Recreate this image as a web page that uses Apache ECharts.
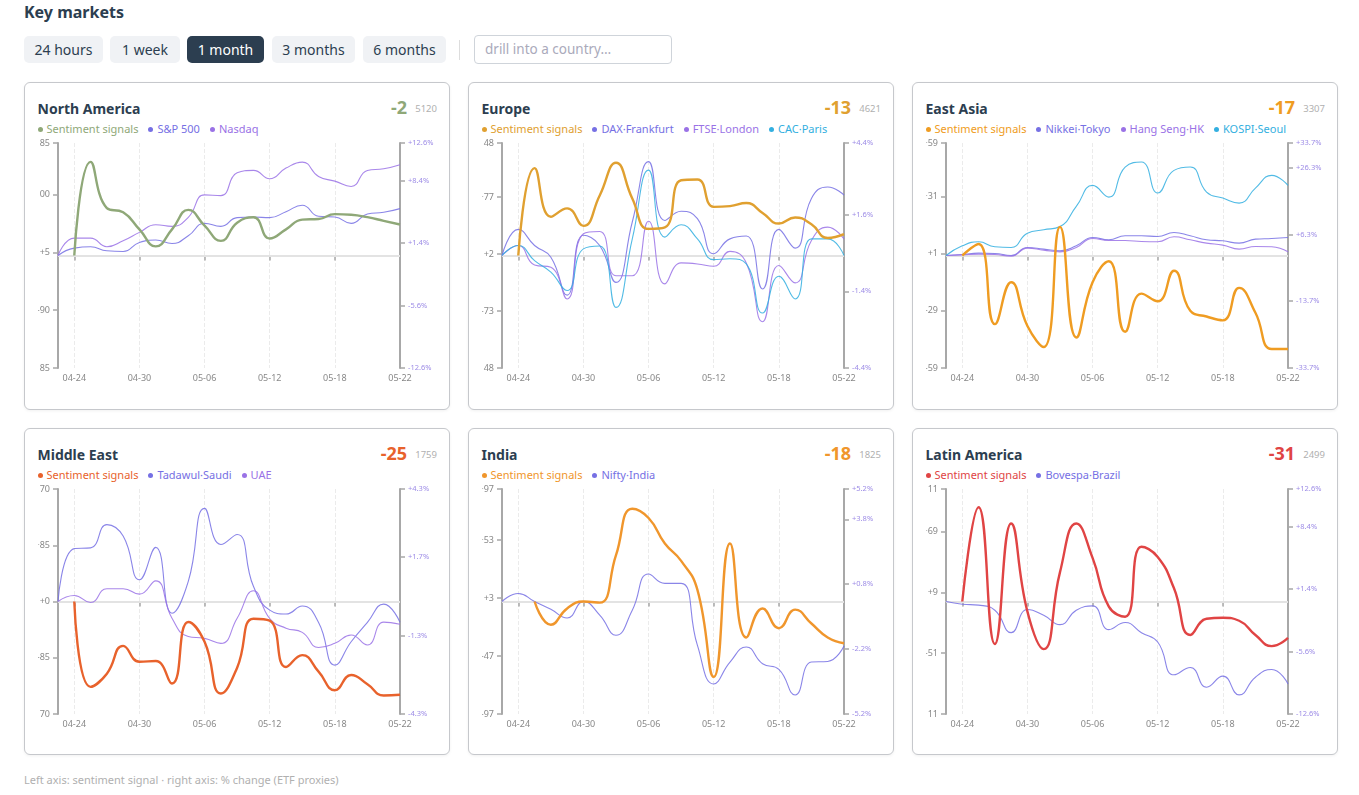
<!DOCTYPE html>
<html>
<head>
<meta charset="utf-8">
<script src="https://cdn.jsdelivr.net/npm/echarts@6/dist/echarts.min.js"></script>
<style>
  body { margin: 0; background: #fff; font-family: 'Noto Sans', 'Open Sans', sans-serif; color: #2c3e50; }
  #page { position: relative; width: 1359px; height: 795px; }
  .h1 { position: absolute; left: 24px; top: 1px; font-size: 16px; font-weight: 700; color: #2c3e50; }
  .btn { position: absolute; top: 36px; height: 27px; line-height: 27px; border-radius: 5px; background: #f0f2f5;
         color: #2c3e50; font-size: 14px; text-align: center; }
  .btn.on { background: #2c3e50; color: #fff; }
  .sep { position: absolute; left: 459px; top: 40px; width: 1px; height: 20px; background: #ddd; }
  .search { position: absolute; left: 474px; top: 35px; width: 186px; height: 27px; border: 1px solid #cfd4da; border-radius: 4px;
            font-size: 13.5px; color: #aab; line-height: 27px; padding-left: 10px; box-sizing: content-box; }
  .panel { position: absolute; width: 424px; border: 1.5px solid #c6c8cc; border-radius: 6px; background: #fff;
           box-shadow: 0 1px 3px rgba(0,0,0,0.06); }
  .ptitle { position: absolute; left: 12.5px; top: 16px; font-size: 14px; font-weight: 700; color: #2c3e50; }
  .pnum { position: absolute; right: 42px; top: 12px; font-size: 18px; font-weight: 700; }
  .pcount { position: absolute; right: 12px; top: 19px; font-size: 9.5px; color: #b0b0b0; }
  .legend { position: absolute; left: 12.5px; top: 38px; font-size: 11px; white-space: nowrap; }
  .legend span { margin-right: 10px; }
  .legend i { display: inline-block; width: 5px; height: 5px; border-radius: 50%; margin-right: 4px; vertical-align: 1px; }
  .chart { position: absolute; left: 12.5px; top: 54px; width: 400px; height: 252px; }
  .foot { position: absolute; left: 24px; top: 772px; font-size: 11px; color: #b0b0b0; }
</style>
</head>
<body>
<div id="page">
  <div class="h1">Key markets</div>
  <div class="btn" style="left:24px;width:79px">24 hours</div>
  <div class="btn" style="left:110px;width:70px">1 week</div>
  <div class="btn on" style="left:187px;width:77px">1 month</div>
  <div class="btn" style="left:272px;width:83px">3 months</div>
  <div class="btn" style="left:363px;width:83px">6 months</div>
  <div class="sep"></div>
  <div class="search">drill into a country…</div>
  <div class="foot">Left axis: sentiment signal · right axis: % change (ETF proxies)</div>
</div>
<script>
// x categories (only every 4th from index 1 is labelled)
const dates = ['04-23', '04-24', '04-25', '04-27', '04-28', '04-30', '05-01', '05-03', '05-04', '05-06', '05-07',
  '05-09', '05-10', '05-12', '05-13', '05-15', '05-16', '05-18', '05-19', '05-20', '05-21', '05-22'];

// North America
const naSentiment = ['-', 0, 154, 78, 71, 43, 15, 43, 75, 49, 24, 54, 63, 28, 43, 59, 60, 68, 67, 63, 57, 51];
const naSp500 = [0, 0.83, 0.98, 0.53, 0.45, 1.46, 1.73, 1.35, 2.21, 3.6, 3.26, 4.24, 4.31, 4.24, 4.91, 5.63, 4.39, 4.31, 3.6, 4.65, 4.84, 5.25];
const naNasdaq = [0, 1.95, 1.95, 0.98, 1.65, 2.59, 3.45, 3.26, 4.28, 6.79, 6.71, 9.26, 9.53, 8.59, 9.79, 10.46, 8.85, 8.33, 7.73, 9.53, 9.71, 10.16];

// Europe
const euSentiment = ['-', 0, 115, 51, 62, 39, 79, 122, 75, 35, 37, 99, 100, 64, 65, 69, 56, 42, 50, 41, 23, 28];
const euDax = [0, 1.02, 0.39, -0.07, -1.55, 0.79, 0.39, -1.05, 1.31, 3.67, 1.37, 1.73, 1.44, 0.07, 0.65, 0.76, -1.31, 1.02, 0.29, 2.23, 2.68, 2.36];
const euFtse = [0, 0.39, -0.37, -0.46, -1.7, 0.85, 0.94, -0.79, -0.79, 1.34, -1.11, -0.29, -0.33, -0.42, 0.16, -0.29, -2.59, -0.39, -1.07, 0.59, 1.11, 0.65];
const euCac = [0, 0.39, -0.2, -0.65, -1.37, 0.26, 0.37, -2.03, 0.65, 3.34, 0.72, 1.2, 0.65, -0.16, -0.13, -0.33, -2.25, -0.81, -1.7, 0.65, 0.65, 0];

// East Asia
const eaSentiment = ['-', 0, 6, -36, -14, -37, -48, 15, -43, -14, -3, -40, -20, -24, -8, -29, -32, -34, -17, -30, -49, -49];
const eaNikkei = [0, 0.3, 0.7, 0.6, 0, 2.4, 1.9, 1.4, 2.9, 5.4, 4.7, 5.9, 5.9, 5.7, 6.9, 5.9, 4.7, 4.4, 3.7, 4.9, 5.1, 5.4];
const eaHangSeng = [0, 0.2, 0.4, 0.3, -0.2, 2.2, 1.6, 1.1, 2.4, 5.1, 4.5, 4.5, 4.2, 4.1, 5.6, 4.7, 3.7, 3.1, 1.9, 2.7, 2.6, 1.1];
const eaKospi = [0, 2.9, 4.1, 2.6, 2.4, 6.7, 7.7, 8.7, 14.7, 21, 17.5, 26.5, 28, 18.7, 25.5, 26.5, 19, 17.2, 15.7, 20.2, 24, 21];

// Middle East
const meSentiment = ['-', 0, -129, -109, -67, -91, -90, -124, -31, -61, -139, -100, -26, -29, -99, -81, -106, -134, -111, -125, -142, -141];
const meTadawul = [0, 2.02, 2.05, 2.94, 2.5, 0.83, 2.07, -0.45, 0.77, 3.56, 2.18, 2.56, 0.58, -0.33, -0.48, -0.17, -0.8, -2.43, -1.54, -0.8, -0.1, -0.79];
const meUae = [0, 0.23, -0.04, 0.49, 0.49, 0.28, 0.79, -0.64, -1.34, -1.41, -1.6, -0.64, 0.41, -0.65, -1.02, -1.18, -1.76, -1.6, -1.28, -1.66, -0.79, -0.87];

// India
const inSentiment = ['-', '-', 0, -20, -6, 0, -1, 40, 80, 72, 50, 35, 10, -65, 50, -31, -6, -23, -7, -19, -31, -36];
const inNifty = [0, 0.37, 0, -0.36, -0.76, 0, -0.63, -1.56, -0.4, 1.27, 0.84, 0.84, -2.03, -3.81, -2.8, -2.1, -2.88, -3.14, -4.32, -2.8, -2.77, -2.06];

// Latin America
const laSentiment = ['-', 0, 93, -42, 77, -10, -47, 29, 77, 43, -5, -15, 54, 44, 13, -33, -17, -16, -19, -33, -44, -36];
const laBovespa = [0, -0.3, -0.41, -0.98, -3.49, -0.9, -1.54, -2.59, -0.98, -0.49, -3.15, -2.36, -3.49, -4.54, -8.21, -7.39, -9.6, -8.36, -10.46, -8.48, -7.61, -9.23];

// header numbers
const scores = [-2, -13, -17, -25, -18, -31];
const counts = [5120, 4621, 3307, 1759, 1825, 2499];

// axis ranges: left (sentiment) max / step, right (% change) max / step
const leftMax = [185, 148, 59, 170, 97, 111];
const leftStep = [95, 75, 30, 85, 50, 60];
const rightMax = [12.6, 4.4, 33.7, 4.3, 5.2, 12.6];
const rightStep = [7, 3, 20, 3, 3, 7];

const BLUE = '#7670e4', VIOLET = '#9a72e6', CYAN = '#33afe0';

const panels = [
  { name: 'North America', color: '#8fa878', sent: naSentiment,
    idx: [['S&P 500', naSp500, BLUE], ['Nasdaq', naNasdaq, VIOLET]] },
  { name: 'Europe', color: '#e0a030', sent: euSentiment,
    idx: [['DAX·Frankfurt', euDax, BLUE], ['FTSE·London', euFtse, VIOLET], ['CAC·Paris', euCac, CYAN]] },
  { name: 'East Asia', color: '#ef9c22', sent: eaSentiment,
    idx: [['Nikkei·Tokyo', eaNikkei, BLUE], ['Hang Seng·HK', eaHangSeng, VIOLET], ['KOSPI·Seoul', eaKospi, CYAN]] },
  { name: 'Middle East', color: '#e8622c', sent: meSentiment,
    idx: [['Tadawul·Saudi', meTadawul, BLUE], ['UAE', meUae, VIOLET]] },
  { name: 'India', color: '#f0962c', sent: inSentiment,
    idx: [['Nifty·India', inNifty, BLUE]] },
  { name: 'Latin America', color: '#e04444', sent: laSentiment,
    idx: [['Bovespa·Brazil', laBovespa, BLUE]] }
];

const lblInterval = (i) => i % 4 === 1;
const page = document.getElementById('page');

panels.forEach((p, k) => {
  let col = k % 3, row = Math.floor(k / 3);
  let el = document.createElement('div');
  el.className = 'panel';
  el.style.left = (24 + col * 444) + 'px';
  el.style.top = (82 + row * 346) + 'px';
  el.style.height = (row === 0 ? 326 : 325) + 'px';
  let legend = '<span style="color:' + p.color + '"><i style="background:' + p.color + '"></i>Sentiment signals</span>';
  p.idx.forEach(s => {
    legend += '<span style="color:' + s[2] + '"><i style="background:' + s[2] + '"></i>' + s[0] + '</span>';
  });
  el.innerHTML =
    '<div class="ptitle">' + p.name + '</div>' +
    '<div class="pnum" style="color:' + p.color + '">' + scores[k] + '</div>' +
    '<div class="pcount">' + counts[k] + '</div>' +
    '<div class="legend">' + legend + '</div>' +
    '<div class="chart"></div>';
  page.appendChild(el);

  const chart = echarts.init(el.querySelector('.chart'), null, { renderer: 'canvas' });
  let series = [{
    name: 'Sentiment signals',
    type: 'line',
    yAxisIndex: 0,
    data: p.sent,
    smooth: true,
    symbol: 'none',
    z: 3,
    lineStyle: { color: p.color, width: 2.4 },
    itemStyle: { color: p.color },
    markLine: {
      silent: true,
      symbol: 'none',
      label: { show: false },
      lineStyle: { color: '#e3e3e3', width: 2, type: 'solid' },
      data: [{ yAxis: 0 }],
      z: 1
    }
  }];
  p.idx.forEach(s => {
    series.push({
      name: s[0],
      type: 'line',
      yAxisIndex: 1,
      data: s[1],
      smooth: true,
      symbol: 'none',
      z: 2,
      lineStyle: { color: s[2], width: 1.1, opacity: 0.85 },
      itemStyle: { color: s[2] }
    });
  });

  chart.setOption({
    animation: false,
    textStyle: { fontFamily: 'Noto Sans' },
    grid: { left: 20, right: 38, top: 6, bottom: 21, containLabel: false, outerBoundsMode: 'none' },
    xAxis: [{
      type: 'category',
      data: dates,
      boundaryGap: false,
      axisLine: { lineStyle: { color: '#a8a8a8', width: 2 } },
      axisTick: { interval: lblInterval, length: 5, lineStyle: { color: '#a8a8a8', width: 1.5 } },
      axisLabel: { interval: lblInterval, color: '#888', fontSize: 9, margin: 6 },
      splitLine: { show: true, interval: lblInterval, lineStyle: { color: '#ebebeb', type: 'dashed', width: 1 } }
    }, {
      type: 'category',
      data: dates,
      position: 'top',
      boundaryGap: false,
      axisLine: { lineStyle: { color: '#e2e2e2', type: 'dashed', width: 1 } },
      axisTick: { show: false },
      axisLabel: { show: false }
    }],
    yAxis: [{
      type: 'value',
      min: -leftMax[k],
      max: leftMax[k],
      interval: leftStep[k],
      axisLine: { show: true, lineStyle: { color: '#a8a8a8', width: 2 } },
      axisTick: { show: true, length: 5, lineStyle: { color: '#a8a8a8', width: 1.5 } },
      axisLabel: { color: '#888', fontSize: 9, margin: 8,
        formatter: v => (v >= 0 ? '+' : '') + Math.round(v) },
      splitLine: { show: false }
    }, {
      type: 'value',
      position: 'right',
      min: -rightMax[k],
      max: rightMax[k],
      interval: rightStep[k],
      axisLine: { show: true, lineStyle: { color: '#a8a8a8', width: 2 } },
      axisTick: { show: true, length: 5, lineStyle: { color: '#a8a8a8', width: 1.5 } },
      axisLabel: { color: '#9d8ce6', fontSize: 7.5, margin: 8,
        formatter: v => (v >= 0 ? '+' : '') + v.toFixed(1) + '%' },
      splitLine: { show: false }
    }],
    series: series
  });
});
</script>
</body>
</html>
